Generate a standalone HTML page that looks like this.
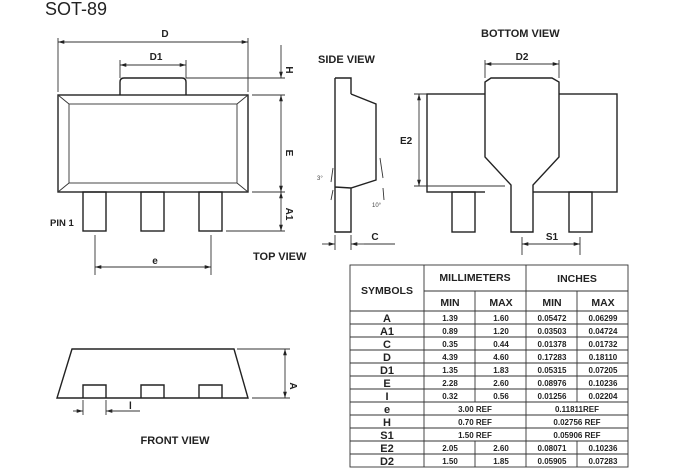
<!DOCTYPE html>
<html><head><style>
html,body{margin:0;padding:0;background:#fff;}
svg{display:block;font-family:"Liberation Sans",Arial,sans-serif;}
.l{stroke:#222;stroke-width:1.4;fill:none;}
.t{stroke:#333;stroke-width:0.9;fill:none;}
.b{font-weight:bold;fill:#222;}
</style></head><body>
<svg width="675" height="471" viewBox="0 0 675 471" xmlns="http://www.w3.org/2000/svg">
<defs>
<marker id="a" viewBox="0 0 10 10" refX="10" refY="5" markerWidth="7" markerHeight="7" orient="auto-start-reverse"><path d="M0,2 L10,5 L0,8 z" fill="#222"/></marker>
</defs>
<text x="45" y="15" font-size="18" fill="#222">SOT-89</text>

<!-- TOP VIEW -->
<rect x="58" y="95" width="190" height="97" class="l" stroke-width="1.8"/>
<rect x="69" y="104" width="168" height="79" class="t"/>
<path class="t" d="M58,95 L69,104 M248,95 L237,104 M58,192 L69,183 M248,192 L237,183"/>
<path class="l" d="M120,95 V82 Q120,78 124,78 H182 Q186,78 186,82 V95"/>
<rect x="83" y="192" width="23" height="39" class="l"/>
<rect x="141" y="192" width="23" height="39" class="l"/>
<rect x="199" y="192" width="23" height="39" class="l"/>
<path class="t" d="M58,38 V92 M248,38 V92"/>
<line x1="58" y1="42" x2="248" y2="42" class="t" marker-start="url(#a)" marker-end="url(#a)"/>
<text x="165" y="37" font-size="10" class="b" text-anchor="middle">D</text>
<path class="t" d="M120,60 V78 M186,60 V78"/>
<line x1="120" y1="65" x2="186" y2="65" class="t" marker-start="url(#a)" marker-end="url(#a)"/>
<text x="156" y="60" font-size="10" class="b" text-anchor="middle">D1</text>
<path class="t" d="M186,78 H285 M252,95 H285 M252,192 H285 M226,231 H285"/>
<line x1="281" y1="45" x2="281" y2="78" class="t" marker-end="url(#a)"/>
<line x1="281" y1="95" x2="281" y2="192" class="t" marker-start="url(#a)" marker-end="url(#a)"/>
<line x1="281" y1="192" x2="281" y2="231" class="t" marker-start="url(#a)" marker-end="url(#a)"/>
<text transform="translate(286,70) rotate(90)" font-size="10" class="b" text-anchor="middle">H</text>
<text transform="translate(286,153) rotate(90)" font-size="10" class="b" text-anchor="middle">E</text>
<text transform="translate(286,214) rotate(90)" font-size="10" class="b" text-anchor="middle">A1</text>
<text x="50" y="226" font-size="9.5" class="b">PIN 1</text>
<path class="t" d="M95,235 V275 M211,235 V275"/>
<line x1="95" y1="267" x2="211" y2="267" class="t" marker-start="url(#a)" marker-end="url(#a)"/>
<text x="155" y="264" font-size="10" class="b" text-anchor="middle">e</text>
<text x="253" y="260" font-size="11" class="b">TOP VIEW</text>

<!-- SIDE VIEW -->
<text x="318" y="63" font-size="11" class="b">SIDE VIEW</text>
<path class="l" d="M335,78 H351 V94 M335,78 V232 H351 V188 M351,94 L376,104 V180 L351,188 L335,187"/>
<path class="t" d="M333,168 L331,182 M333,190 L331,200 M380,158 L383,178 M383,188 L384,200"/>
<text x="317" y="180" font-size="6" fill="#444">3°</text>
<text x="372" y="207" font-size="6" fill="#444">10°</text>
<path class="t" d="M335,235 V250 M351,235 V250"/>
<line x1="322" y1="244" x2="335" y2="244" class="t" marker-end="url(#a)"/>
<line x1="364" y1="244" x2="351" y2="244" class="t" marker-end="url(#a)"/>
<line x1="364" y1="244" x2="395" y2="244" class="t"/>
<text x="375" y="240" font-size="10" class="b" text-anchor="middle">C</text>

<!-- BOTTOM VIEW -->
<text x="481" y="37" font-size="11" class="b">BOTTOM VIEW</text>
<rect x="427" y="94" width="190" height="98" class="l"/>
<rect x="452" y="192" width="23" height="40" class="l"/>
<rect x="569" y="192" width="23" height="40" class="l"/>
<path d="M485,232 V82 L491,78 H552 L559,82 V157 L533,185 V232 Z" fill="#fff" stroke="none"/>
<path class="l" d="M511,232 V185 L485,157 V82 L491,78 H552 L559,82 V157 L533,185 V232 Z"/>
<path class="t" d="M485,60 V78 M559,60 V78"/>
<line x1="485" y1="64" x2="559" y2="64" class="t" marker-start="url(#a)" marker-end="url(#a)"/>
<text x="522" y="60" font-size="10" class="b" text-anchor="middle">D2</text>
<path class="t" d="M414,94 H427 M414,186 H505"/>
<line x1="419" y1="94" x2="419" y2="186" class="t" marker-start="url(#a)" marker-end="url(#a)"/>
<text x="400" y="144" font-size="10" class="b">E2</text>
<path class="t" d="M522,237 V255 M580,237 V255"/>
<line x1="522" y1="244" x2="580" y2="244" class="t" marker-start="url(#a)" marker-end="url(#a)"/>
<text x="552" y="240" font-size="10" class="b" text-anchor="middle">S1</text>

<!-- FRONT VIEW -->
<path class="l" d="M72,349 H234 L248,398 H57 Z"/>
<path class="l" d="M83,398 V385 H106 V398 M141,398 V385 H164 V398 M199,398 V385 H222 V398"/>
<path class="t" d="M237,349 H290 M252,398 H290 M83,400 V415 M106,400 V415"/>
<line x1="285" y1="349" x2="285" y2="398" class="t" marker-start="url(#a)" marker-end="url(#a)"/>
<text transform="translate(290,386) rotate(90)" font-size="10" class="b" text-anchor="middle">A</text>
<line x1="73" y1="411" x2="83" y2="411" class="t" marker-end="url(#a)"/>
<line x1="116" y1="411" x2="106" y2="411" class="t" marker-end="url(#a)"/>
<line x1="106" y1="411" x2="140" y2="411" class="t"/>
<text x="129" y="409" font-size="10" class="b">l</text>
<text x="175" y="444" font-size="11" class="b" text-anchor="middle">FRONT VIEW</text>

<!-- TABLE -->
<g class="t" stroke="#333" stroke-width="1">
<rect x="350" y="265" width="278" height="202" fill="none"/>
<line x1="424" y1="265" x2="424" y2="467"/>
<line x1="526" y1="265" x2="526" y2="467"/>
<line x1="424" y1="291" x2="628" y2="291"/>
<line x1="350" y1="311" x2="628" y2="311"/>
<line x1="475" y1="291" x2="475" y2="402"/>
<line x1="577" y1="291" x2="577" y2="402"/>
<line x1="475" y1="441" x2="475" y2="467"/>
<line x1="577" y1="441" x2="577" y2="467"/>
<line x1="350" y1="324" x2="628" y2="324"/><line x1="350" y1="337" x2="628" y2="337"/>
<line x1="350" y1="350" x2="628" y2="350"/><line x1="350" y1="363" x2="628" y2="363"/>
<line x1="350" y1="376" x2="628" y2="376"/><line x1="350" y1="389" x2="628" y2="389"/>
<line x1="350" y1="402" x2="628" y2="402"/><line x1="350" y1="415" x2="628" y2="415"/>
<line x1="350" y1="428" x2="628" y2="428"/><line x1="350" y1="441" x2="628" y2="441"/>
<line x1="350" y1="454" x2="628" y2="454"/>
</g>
<g font-size="10.5" class="b" text-anchor="middle">
<text x="387" y="294">SYMBOLS</text>
<text x="475" y="281">MILLIMETERS</text>
<text x="577" y="282">INCHES</text>
<text x="450" y="306">MIN</text><text x="501" y="306">MAX</text>
<text x="552" y="306">MIN</text><text x="603" y="306">MAX</text>
</g>
<g font-size="11" class="b" text-anchor="middle">
<text x="387" y="322">A</text><text x="387" y="335">A1</text><text x="387" y="348">C</text>
<text x="387" y="361">D</text><text x="387" y="374">D1</text><text x="387" y="387">E</text>
<text x="387" y="400">I</text><text x="387" y="413">e</text><text x="387" y="426">H</text>
<text x="387" y="439">S1</text><text x="387" y="452">E2</text><text x="387" y="465">D2</text>
</g>
<g font-size="8" class="b" text-anchor="middle">
<text x="450" y="321">1.39</text><text x="501" y="321">1.60</text><text x="552" y="321">0.05472</text><text x="603" y="321">0.06299</text>
<text x="450" y="334">0.89</text><text x="501" y="334">1.20</text><text x="552" y="334">0.03503</text><text x="603" y="334">0.04724</text>
<text x="450" y="347">0.35</text><text x="501" y="347">0.44</text><text x="552" y="347">0.01378</text><text x="603" y="347">0.01732</text>
<text x="450" y="360">4.39</text><text x="501" y="360">4.60</text><text x="552" y="360">0.17283</text><text x="603" y="360">0.18110</text>
<text x="450" y="373">1.35</text><text x="501" y="373">1.83</text><text x="552" y="373">0.05315</text><text x="603" y="373">0.07205</text>
<text x="450" y="386">2.28</text><text x="501" y="386">2.60</text><text x="552" y="386">0.08976</text><text x="603" y="386">0.10236</text>
<text x="450" y="399">0.32</text><text x="501" y="399">0.56</text><text x="552" y="399">0.01256</text><text x="603" y="399">0.02204</text>
<text x="475" y="412">3.00 REF</text><text x="577" y="412">0.11811REF</text>
<text x="475" y="425">0.70 REF</text><text x="577" y="425">0.02756 REF</text>
<text x="475" y="438">1.50 REF</text><text x="577" y="438">0.05906 REF</text>
<text x="450" y="451">2.05</text><text x="501" y="451">2.60</text><text x="552" y="451">0.08071</text><text x="603" y="451">0.10236</text>
<text x="450" y="464">1.50</text><text x="501" y="464">1.85</text><text x="552" y="464">0.05905</text><text x="603" y="464">0.07283</text>
</g>
</svg>
</body></html>
